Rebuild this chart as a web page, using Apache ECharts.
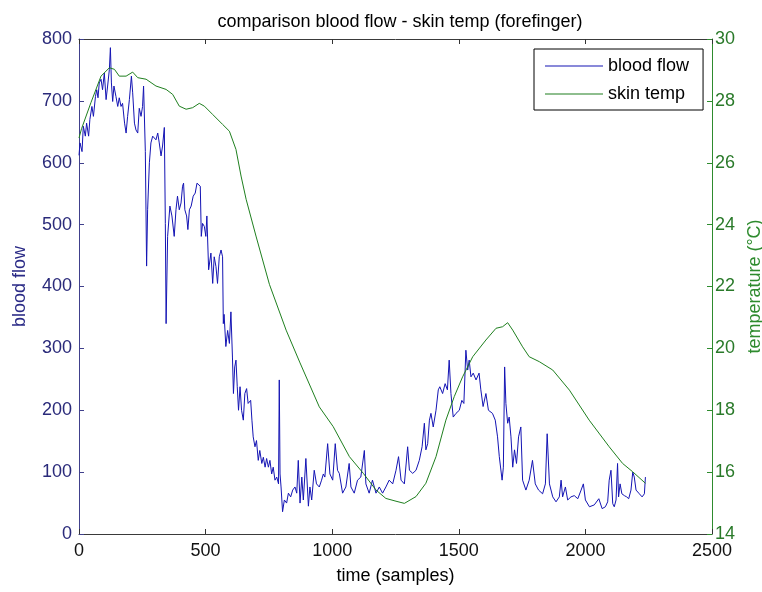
<!DOCTYPE html>
<html>
<head>
<meta charset="utf-8">
<script src="https://cdn.jsdelivr.net/npm/echarts@6/dist/echarts.min.js"></script>
<style>
  html, body { margin: 0; padding: 0; background: #fff; }
  #chart { width: 762px; height: 592px; }
</style>
</head>
<body>
<div id="chart"></div>
<script>
// Blood flow trace (sample index, flow value)
const flowSamples = [0,4,12,17,25,30,38,43,51,57,65,70,75,80,87,93,100,107,113,120,124,128,133,138,146,153,159,166,172,180,186,192,199,207,212,219,225,232,238,245,251,255,262,267,271,278,284,291,304,311,317,324,330,337,341,344,350,359,367,376,383,389,396,403,409,413,418,425,430,436,443,451,459,466,472,479,483,488,495,501,505,512,521,528,534,541,547,554,561,567,570,573,580,587,594,600,606,610,615,620,625,630,636,642,649,655,662,668,678,683,688,695,701,708,714,722,728,735,741,748,754,761,767,774,781,788,791,794,798,804,811,820,827,836,844,853,860,866,873,880,886,896,906,912,919,929,938,949,958,965,971,982,991,1002,1012,1021,1028,1041,1054,1067,1074,1087,1100,1113,1127,1133,1146,1159,1173,1186,1199,1212,1225,1239,1252,1262,1272,1285,1298,1305,1318,1331,1344,1355,1364,1370,1377,1384,1390,1399,1410,1419,1425,1436,1446,1455,1462,1469,1478,1489,1502,1512,1520,1528,1535,1541,1548,1557,1568,1580,1587,1596,1607,1617,1633,1644,1653,1660,1671,1676,1681,1686,1693,1699,1706,1713,1720,1728,1736,1745,1752,1765,1778,1791,1802,1815,1831,1842,1849,1858,1871,1884,1897,1904,1910,1921,1930,1943,1956,1970,1983,1992,2000,2016,2035,2053,2058,2066,2079,2088,2094,2101,2108,2114,2121,2127,2131,2137,2144,2154,2163,2171,2180,2187,2193,2200,2213,2224,2233,2237];
const flowValues = [612,632,618,659,643,664,643,670,691,675,707,718,705,729,735,718,745,702,724,751,786,729,699,724,707,691,705,691,696,664,648,675,702,740,713,664,653,648,688,675,691,724,618,433,524,600,632,643,637,648,632,611,627,657,502,340,481,530,514,481,524,546,524,535,562,567,524,514,492,524,530,546,551,567,570,562,481,502,497,481,514,427,454,405,448,432,405,448,459,448,340,355,303,329,308,359,286,227,270,281,238,200,238,200,184,227,235,211,216,184,157,141,151,119,135,114,124,108,122,108,119,97,108,87,92,81,249,97,76,36,55,50,66,60,71,76,66,119,50,92,55,122,45,76,55,103,81,76,87,97,92,146,97,87,146,103,98,66,76,114,76,66,87,92,135,81,66,87,66,76,66,76,87,81,103,125,87,81,141,103,98,103,119,141,179,136,146,184,195,173,200,233,238,227,243,233,281,227,189,195,200,216,211,297,265,281,254,260,249,260,233,206,227,200,195,184,157,125,87,108,270,211,179,189,157,108,136,114,157,173,87,71,87,119,81,71,65,81,162,81,60,52,60,87,60,76,55,60,62,57,71,81,55,44,47,57,60,41,44,52,87,103,49,44,55,114,60,81,65,62,60,57,71,100,92,71,65,60,65,92];

// Skin temperature trace (sample index, degrees C)
const tempSamples = [0,10,47,87,120,140,159,186,212,232,265,304,344,370,396,423,449,475,495,528,567,594,620,640,660,699,752,818,873,949,1004,1068,1123,1173,1212,1252,1285,1331,1370,1410,1449,1482,1515,1555,1607,1647,1673,1693,1713,1752,1778,1818,1871,1937,2015,2094,2147,2187,2237];
const tempValues = [26.8,27.1,27.94,28.8,29.07,29.02,28.8,28.8,28.93,28.75,28.7,28.48,28.37,28.21,27.83,27.73,27.78,27.92,27.83,27.56,27.24,27.02,26.43,25.57,24.82,23.63,22.07,20.59,19.53,18.11,17.47,16.5,15.96,15.42,15.15,15.06,14.99,15.21,15.64,16.5,17.68,18.44,19.08,19.73,20.27,20.65,20.7,20.83,20.59,20.05,19.73,19.57,19.3,18.65,17.68,16.82,16.28,16.01,15.64];

const FONT = "'Liberation Sans', Arial, sans-serif";
const flowColor = '#1414b4';
const tempColor = '#1f7f1f';

const pairs = (xs, ys) => xs.map((x, i) => [x, ys[i]]);
const plain = v => String(v);

const chart = echarts.init(document.getElementById('chart'), null, { renderer: 'canvas' });

const baseX = {
  type: 'value', min: 0, max: 2500, interval: 500,
  splitLine: { show: false },
  axisTick: { inside: true, length: 5, lineStyle: { color: '#333' } },
  axisLine: { onZero: false, lineStyle: { color: '#3a3a3a', width: 1 } }
};

chart.setOption({
  animation: false,
  backgroundColor: '#ffffff',
  textStyle: { fontFamily: FONT },
  title: {
    text: 'comparison blood flow - skin temp (forefinger)',
    left: 395, top: 8, textAlign: 'center',
    textStyle: { fontFamily: FONT, fontSize: 18, fontWeight: 'normal', color: '#000' }
  },
  grid: { left: 79, right: 50, top: 39, bottom: 58, containLabel: false, outerBoundsMode: 'none' },
  legend: {
    left: 534, top: 49, orient: 'vertical',
    icon: 'rect', itemWidth: 58, itemHeight: 1, itemGap: 6,
    padding: [6, 14, 5, 11],
    borderColor: '#000', borderWidth: 1, backgroundColor: '#fff',
    textStyle: { fontFamily: FONT, fontSize: 18, lineHeight: 22, color: '#000' },
    data: ['blood flow', 'skin temp']
  },
  xAxis: [
    Object.assign({}, baseX, {
      position: 'bottom',
      name: 'time (samples)', nameLocation: 'middle', nameGap: 33,
      nameTextStyle: { fontFamily: FONT, fontSize: 18, color: '#000' },
      axisLabel: { fontFamily: FONT, fontSize: 18, color: '#111', margin: 8, formatter: plain }
    }),
    Object.assign({}, baseX, { position: 'top', axisLabel: { show: false } })
  ],
  yAxis: [
    {
      type: 'value', position: 'left', min: 0, max: 800, interval: 100,
      name: 'blood flow', nameLocation: 'middle', nameGap: 50, nameRotate: 90,
      nameTextStyle: { fontFamily: FONT, fontSize: 18, color: '#2a2a86' },
      splitLine: { show: false },
      axisLine: { show: true, onZero: false, lineStyle: { color: '#40408c', width: 1 } },
      axisTick: { show: true, inside: true, length: 5, lineStyle: { color: '#40408c' } },
      axisLabel: { fontFamily: FONT, fontSize: 18, color: '#2a2a7a', margin: 7, formatter: plain }
    },
    {
      type: 'value', position: 'right', min: 14, max: 30, interval: 2,
      name: 'temperature (\u00B0C)', nameLocation: 'middle', nameGap: 33, nameRotate: 90,
      nameTextStyle: { fontFamily: FONT, fontSize: 18, color: '#2e8b2e' },
      splitLine: { show: false },
      axisLine: { show: true, onZero: false, lineStyle: { color: '#2e8b2e', width: 1 } },
      axisTick: { show: true, inside: true, length: 5, lineStyle: { color: '#2e8b2e' } },
      axisLabel: { fontFamily: FONT, fontSize: 18, color: '#2a7a2a', margin: 3, formatter: plain }
    }
  ],
  series: [
    {
      name: 'blood flow', type: 'line', xAxisIndex: 0, yAxisIndex: 0,
      data: pairs(flowSamples, flowValues),
      showSymbol: false, lineStyle: { color: flowColor, width: 1 },
      itemStyle: { color: flowColor }
    },
    {
      name: 'skin temp', type: 'line', xAxisIndex: 0, yAxisIndex: 1,
      data: pairs(tempSamples, tempValues),
      showSymbol: false, lineStyle: { color: tempColor, width: 1 },
      itemStyle: { color: tempColor }
    }
  ]
});
</script>
</body>
</html>
